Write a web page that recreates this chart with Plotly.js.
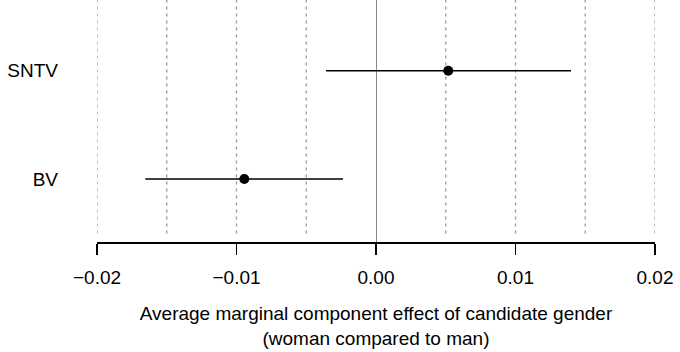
<!DOCTYPE html>
<html>
<head>
<meta charset="utf-8">
<script src="https://cdn.plot.ly/plotly-3.0.1.min.js"></script>
<style>html,body{margin:0;padding:0;background:#fff;}#chart{width:680px;height:352px;}</style>
</head>
<body>
<div id="chart"></div>
<script>
const systems = ["BV", "SNTV"];
const estimate = [-0.00944, 0.00518];
const lower = [-0.01654, -0.00358];
const upper = [-0.00237, 0.01398];
const xTicks = [-0.02, -0.01, 0.00, 0.01, 0.02];
const xTickText = ["\u22120.02", "\u22120.01", "0.00", "0.01", "0.02"];
const dottedRefs = [-0.02, -0.015, -0.01, -0.005, 0.005, 0.01, 0.015, 0.02];

const font = {family: "Liberation Sans, Arial, sans-serif", size: 19, color: "#000"};
const dotStyle = "3px,4px";
const dotColor = "#999";

const trace = {
  type: "scatter",
  mode: "markers",
  x: estimate,
  y: systems,
  marker: {color: "#000", size: 10},
  error_x: {
    type: "data",
    symmetric: false,
    array: upper.map((u, i) => u - estimate[i]),
    arrayminus: lower.map((l, i) => estimate[i] - l),
    color: "#000",
    thickness: 1.5,
    width: 0
  },
  hoverinfo: "skip",
  showlegend: false
};

const layout = {
  width: 680, height: 352,
  margin: {l: 97, r: 25, t: 0, b: 110},
  paper_bgcolor: "#fff", plot_bgcolor: "#fff",
  font: font,
  xaxis: {
    range: [-0.02, 0.02],
    tickvals: xTicks, ticktext: xTickText,
    ticks: "outside", ticklen: 11, tickwidth: 1.5, tickcolor: "#000",
    ticklabelstandoff: 7,
    showline: true, linecolor: "#000", linewidth: 1.5,
    showgrid: false,
    zeroline: true, zerolinecolor: "#888", zerolinewidth: 1,
    tickfont: font,
    title: {text: "Average marginal component effect of candidate gender<br>(woman compared to man)", font: font, standoff: 19}
  },
  yaxis: {
    type: "category",
    categoryarray: systems,
    range: [-0.582, 1.653],
    showline: false, showgrid: false, zeroline: false,
    ticks: "", ticklabelstandoff: 38,
    tickfont: font
  },
  shapes: dottedRefs.map(v => ({
    type: "line", xref: "x", yref: "paper", x0: v, x1: v, y0: 0.035, y1: 1,
    line: {color: dotColor, width: 1.3, dash: dotStyle}, layer: "below"
  }))
};

Plotly.newPlot("chart", [trace], layout, {displayModeBar: false, staticPlot: true});
</script>
</body>
</html>
